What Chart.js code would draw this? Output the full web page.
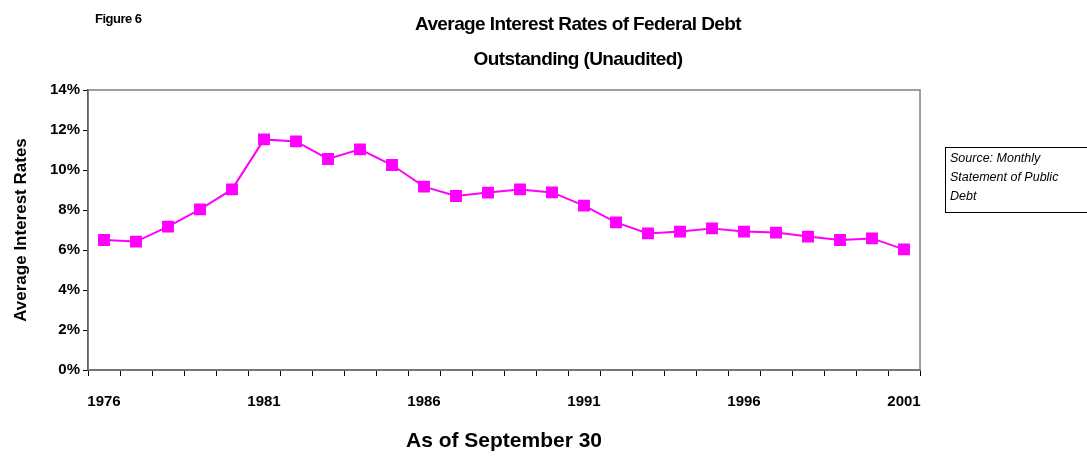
<!DOCTYPE html>
<html>
<head>
<meta charset="utf-8">
<script src="https://cdn.jsdelivr.net/npm/chart.js@4.4.1/dist/chart.umd.min.js"></script>
<style>
  html, body { margin: 0; padding: 0; background: #fff; }
  #wrap { position: relative; width: 1087px; height: 459px; font-family: "Liberation Sans", Arial, sans-serif; }
  #fig { position: absolute; left: 95px; top: 11px; font-size: 13px; font-weight: bold; letter-spacing: -0.5px; }
  #title { position: absolute; left: 328px; width: 500px; top: 6px; text-align: center; font-size: 19px; font-weight: bold; line-height: 35px; letter-spacing: -0.6px; }
  #source { position: absolute; left: 945px; top: 147px; width: 150px; height: 66px; border: 1px solid #000; box-sizing: border-box; padding: 1px 4px; font-size: 12.5px; font-style: italic; line-height: 19px; }
  canvas { position: absolute; left: 0; top: 0; }
</style>
</head>
<body>
<div id="wrap">
  <canvas id="myChart" width="1087" height="459"></canvas>
  <div id="fig">Figure 6</div>
  <div id="title">Average Interest Rates of Federal Debt<br>Outstanding (Unaudited)</div>
  <div id="source">Source: Monthly<br>Statement of Public<br>Debt</div>
</div>
<script>
// Chart data

const years = ["1976", "1977", "1978", "1979", "1980", "1981", "1982", "1983", "1984", "1985",
  "1986", "1987", "1988", "1989", "1990", "1991", "1992", "1993", "1994", "1995",
  "1996", "1997", "1998", "1999", "2000", "2001"]
const rates = [6.5, 6.42, 7.17, 8.03, 9.03, 11.53, 11.43, 10.55, 11.03, 10.25,
  9.17, 8.7, 8.87, 9.03, 8.88, 8.22, 7.38, 6.83, 6.92, 7.08,
  6.92, 6.87, 6.67, 6.5, 6.58, 6.03]
const yTicks = [0, 2, 4, 6, 8, 10, 12, 14]

const fontFamily = '"Liberation Sans", Arial, sans-serif'

// Plot frame (gray top/right edges)

const frame = {
  id: "frame",
  beforeDatasetsDraw(chart) {
    const { ctx, chartArea: a } = chart
    ctx.save()
    ctx.strokeStyle = "#808080"
    ctx.lineWidth = 1.5
    ctx.strokeRect(a.left, a.top, a.right - a.left, a.bottom - a.top)
    ctx.restore()
  },
}

const ctx = document.getElementById("myChart")

new Chart(ctx, {
  type: "line",
  data: {
    labels: years,
    datasets: [
      {
        label: "Average Interest Rates",
        data: rates,
        borderColor: "#FF00FF",
        backgroundColor: "#FF00FF",
        borderWidth: 2,
        pointStyle: "rect",
        pointRadius: 7,
        pointHoverRadius: 7,
        tension: 0,
      },
    ],
  },
  options: {
    responsive: false,
    animation: false,
    layout: { padding: { top: 90, right: 167, left: 0, bottom: 0 } },
    plugins: {
      legend: { display: false },
      tooltip: { enabled: false },
    },
    scales: {
      x: {
        offset: true,
        grid: { offset: true, drawOnChartArea: false, tickLength: 6, color: "#000", lineWidth: 1 },
        border: { color: "#555", width: 2 },
        ticks: {
          autoSkip: false,
          maxRotation: 0,
          padding: 17,
          color: "#000",
          font: { family: fontFamily, size: 15, weight: "bold" },
          callback: (v, i) => (i % 5 === 0 ? years[i] : ""),
        },
        title: {
          display: true,
          text: "As of September 30",
          color: "#000",
          font: { family: fontFamily, size: 21, weight: "bold" },
          padding: { top: 0, bottom: 5 },
        },
        afterFit: (s) => { s.height = 89 },
      },
      y: {
        min: 0,
        max: 14,
        afterBuildTicks: (s) => { s.ticks = yTicks.map((v) => ({ value: v })) },
        grid: { drawOnChartArea: false, tickLength: 5, color: "#000" },
        border: { color: "#000", width: 1.5 },
        ticks: {
          padding: 3,
          color: "#000",
          font: { family: fontFamily, size: 15, weight: "bold" },
          callback: (v) => v + "%",
        },
        title: {
          display: true,
          text: "Average Interest Rates",
          color: "#000",
          font: { family: fontFamily, size: 17, weight: "bold" },
          padding: { top: 11, bottom: 0 },
        },
        afterFit: (s) => { s.width = 88 },
      },
    },
  },
  plugins: [frame],
})
</script>
</body>
</html>
